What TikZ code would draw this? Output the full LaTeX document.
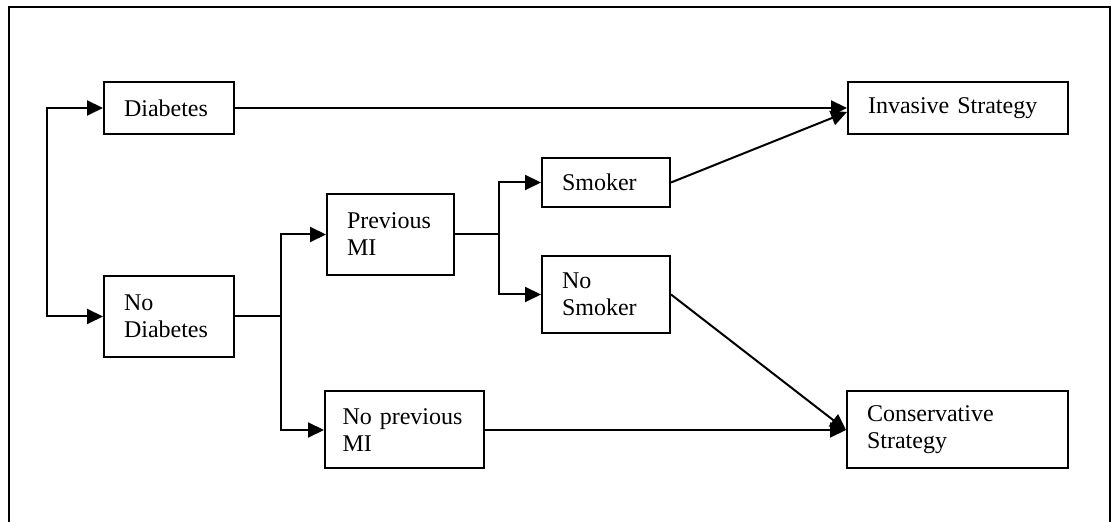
\documentclass[tikz,border=0pt]{standalone}
\usepackage{fontspec}
\setmainfont{Liberation Serif}
\usepackage{tikz}
\usetikzlibrary{arrows.meta}
\hyphenpenalty=10000
\tikzset{box/.style={draw, line width=1pt, inner xsep=10pt, inner ysep=0pt, align=left, font=\fontsize{12}{13.5}\selectfont},
  arr/.style={-{Triangle[length=8pt,width=7.5pt]}, line width=1pt}}

\begin{document}
\begin{tikzpicture}[x=0.5pt, y=-0.5pt]
          \clip (0,0) rectangle (1111,522);
          \draw[line width=0.6pt] (9,7) rectangle (1110,560);

          \node[box, text width=45pt, minimum height=26pt] (Diabetes) at (169,108) {Diabetes};
          \node[box, text width=45pt, minimum height=40.5pt] (NoDiabetes) at (169,316.5) {No\\Diabetes};
          \node[box, text width=43.5pt, minimum height=40.5pt] (PrevMI) at (390.5,234.5) {Previous\\MI};
          \node[box, text width=62pt, inner xsep=8.75pt, minimum height=38.5pt] (NoPrevMI) at (404.5,430) {No previous\\MI};
          \node[box, text width=44pt, minimum height=24.5pt] (Smoker) at (606,182.5) {Smoker};
          \node[box, text width=44pt, minimum height=38.5pt] (NoSmoker) at (606,294.5) {No\\Smoker};
          \node[box, text width=90pt, minimum height=26pt] (Invasive) at (958,108) {Invasive Strategy};
          \node[box, text width=90.5pt, minimum height=38.5pt] (Conservative) at (957.5,430) {Conservative\\Strategy};

          \coordinate (Root) at (47,212);
          \draw[arr] (Root) |- (Diabetes);
          \draw[arr] (Root) |- (NoDiabetes);

          \draw[arr] (NoDiabetes.east) -- ++(46,0) |- (PrevMI);
          \draw[arr] (NoDiabetes.east) -- ++(46,0) |- (NoPrevMI);
          \draw[arr] (PrevMI.east) -- ++(44,0) |- (Smoker);
          \draw[arr] (PrevMI.east) -- ++(44,0) |- (NoSmoker);

          \draw[arr] (Diabetes) to (Invasive);
          \draw[arr] (Smoker.east) to ([yshift=-2pt]Invasive.west);
          \draw[arr] (NoSmoker.east) to (Conservative.west);
          \draw[arr] (NoPrevMI) to (Conservative);
        \end{tikzpicture}
\end{document}
